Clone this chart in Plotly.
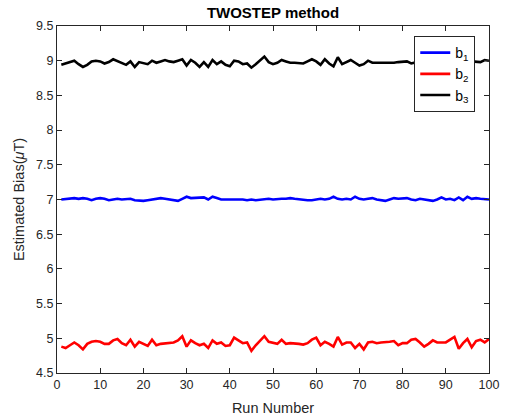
import plotly.graph_objects as go

runs = list(range(1, 101))

b1 = [7.00, 7.01, 7.01, 7.02, 7.01, 7.02, 7.01, 6.99, 7.01, 7.02,
      7.01, 6.99, 7.00, 7.01, 7.00, 7.00, 7.01, 6.99, 6.98, 6.98,
      6.99, 7.00, 7.01, 7.02, 7.01, 7.00, 6.99, 6.98, 7.01, 7.04,
      7.02, 7.02, 7.02, 7.03, 7.00, 7.04, 7.02, 7.00, 7.00, 7.00,
      7.00, 7.01, 7.00, 6.99, 7.00, 6.99, 7.00, 7.00, 7.01, 7.00,
      7.01, 7.01, 7.01, 7.02, 7.01, 7.00, 7.00, 6.99, 6.99, 7.00,
      7.01, 7.00, 7.01, 7.04, 7.01, 7.00, 7.01, 7.00, 7.04, 7.01,
      7.00, 7.01, 7.02, 7.00, 6.99, 6.98, 7.00, 7.02, 7.01, 7.01,
      7.02, 7.00, 6.99, 7.01, 7.00, 6.99, 6.98, 7.00, 7.03, 7.00,
      7.01, 6.99, 7.03, 6.99, 7.04, 7.01, 7.02, 7.01, 7.00, 7.00]

b2 = [4.88, 4.86, 4.90, 4.94, 4.90, 4.84, 4.92, 4.95, 4.96, 4.95,
      4.92, 4.92, 4.97, 4.99, 4.93, 4.90, 4.98, 4.88, 4.95, 4.92,
      4.89, 4.98, 4.90, 4.92, 4.93, 4.93, 4.94, 4.97, 5.03, 4.88,
      4.97, 4.93, 4.90, 4.92, 4.86, 4.97, 4.92, 4.94, 4.89, 4.90,
      5.01, 4.97, 4.93, 4.94, 4.82, 4.90, 4.96, 5.03, 4.95, 4.94,
      4.92, 4.98, 4.92, 4.93, 4.93, 4.92, 4.91, 4.93, 4.98, 5.01,
      4.90, 4.95, 4.92, 4.88, 5.02, 4.91, 4.94, 4.94, 4.86, 4.92,
      4.84, 4.94, 4.95, 4.93, 4.94, 4.94, 4.95, 4.96, 4.90, 4.93,
      4.93, 4.98, 4.99, 4.94, 4.88, 4.92, 4.97, 4.94, 4.94, 4.94,
      4.98, 5.02, 4.85, 4.93, 4.99, 4.87, 4.96, 4.98, 4.94, 4.99]

b3 = [8.94, 8.96, 8.98, 9.00, 8.95, 8.91, 8.94, 8.99, 9.00, 8.99,
      8.96, 8.98, 9.02, 8.99, 8.97, 8.94, 8.99, 8.91, 8.98, 8.96,
      8.95, 9.00, 8.97, 8.99, 9.01, 8.99, 8.98, 9.00, 9.02, 8.93,
      9.01, 8.97, 8.91, 8.98, 8.91, 9.01, 8.95, 8.99, 8.94, 8.92,
      9.00, 8.99, 8.95, 8.96, 8.90, 8.95, 9.00, 9.06, 8.98, 8.95,
      8.97, 9.01, 8.99, 8.97, 8.97, 8.96, 8.96, 8.99, 9.02, 8.99,
      8.94, 9.02, 8.96, 8.92, 9.05, 8.95, 8.98, 9.01, 8.97, 8.93,
      8.95, 9.00, 8.97, 8.97, 8.97, 8.97, 8.96, 8.97, 8.98, 8.98,
      8.99, 8.96, 8.97, 8.99, 8.98, 8.96, 8.98, 8.99, 8.97, 8.98,
      8.99, 8.97, 9.00, 8.99, 9.00, 8.99, 8.99, 8.98, 9.01, 9.00]

series_names = ["b<sub>1</sub>", "b<sub>2</sub>", "b<sub>3</sub>"]
series_colors = ["#0000ff", "#ff0000", "#000000"]

x_ticks = list(range(0, 101, 10))
y_ticks = [4.5, 5, 5.5, 6, 6.5, 7, 7.5, 8, 8.5, 9, 9.5]
y_tick_labels = ["4.5", "5", "5.5", "6", "6.5", "7", "7.5", "8", "8.5", "9", "9.5"]

fig = go.Figure()
for name, vals, col in zip(series_names, [b1, b2, b3], series_colors):
    fig.add_trace(go.Scatter(x=runs, y=vals, mode="lines", name=name,
                             line=dict(color=col, width=2.6)))

font_family = "Liberation Sans, Arial, sans-serif"
axis_common = dict(showline=True, linecolor="#262626", linewidth=1, mirror="ticks",
                   ticks="inside", ticklen=5, tickcolor="#262626", showgrid=False,
                   zeroline=False, automargin=False,
                   tickfont=dict(family=font_family, size=12.5, color="#262626"))

fig.update_layout(
    width=508, height=419,
    margin=dict(l=57, r=19, t=26, b=46),
    paper_bgcolor="white", plot_bgcolor="white",
    title=dict(text="<b>TWOSTEP method</b>", x=0.5, xref="paper", xanchor="center",
               y=0.97, yanchor="middle",
               font=dict(family=font_family, size=15, color="#000000")),
    xaxis=dict(range=[0, 100], tickvals=x_ticks,
               title=dict(text="Run Number", standoff=11,
                          font=dict(family=font_family, size=14.5, color="#262626")),
               **axis_common),
    yaxis=dict(range=[4.5, 9.5], tickvals=y_ticks, ticktext=y_tick_labels,
               title=dict(text="Estimated Bias(<i>μ</i>T)", standoff=8,
                          font=dict(family=font_family, size=14.5, color="#262626")),
               **axis_common),
    legend=dict(x=0.827, y=0.971, xanchor="left", yanchor="top",
                bgcolor="white", bordercolor="#262626", borderwidth=1,
                font=dict(family=font_family, size=14, color="#000000"),
                tracegroupgap=0),
    showlegend=True,
)

fig.write_html("out.html")
